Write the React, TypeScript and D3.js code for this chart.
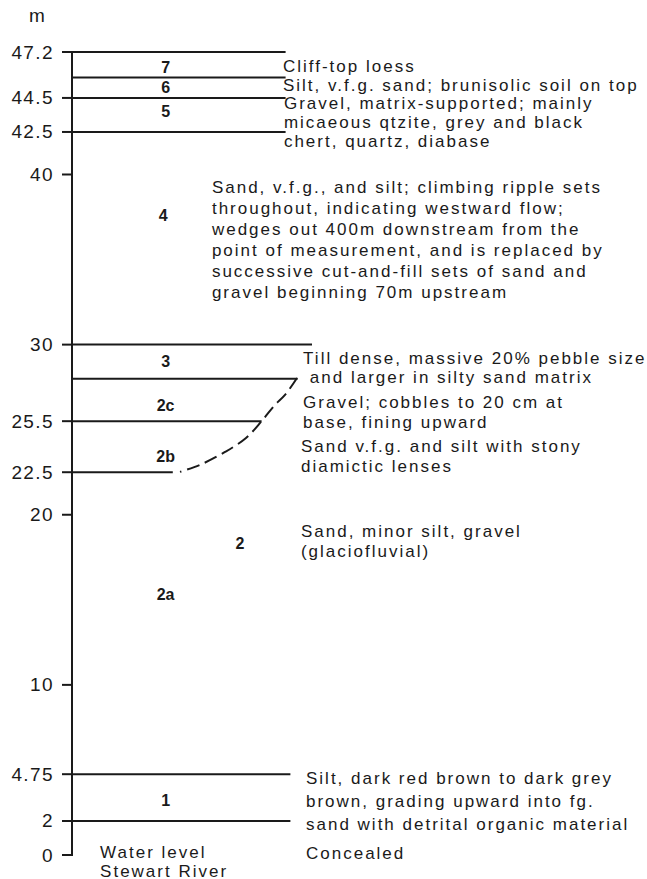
import React from "react";
import * as d3 from "d3";

const WIDTH = 647;
const HEIGHT = 879;

// height above water level (m) shown on the axis
const tickValues = [47.2, 44.5, 42.5, 40, 30, 25.5, 22.5, 20, 10, 4.75, 2, 0];

// unit contacts: height (m) and lateral reach (relative units, 30 m contact = 100)
const contactHeights = [47.2, 45.7, 44.5, 42.5, 30, 28, 25.5, 22.5, 4.75, 2];
const contactExtents = [89, 89, 89, 89, 100, 94, 79, 42, 91, 91];

// dashed channel margin cutting 2b / 2c
const channelHeights = [28.04, 27.04, 26.46, 25.5, 24.51, 23.69, 22.93, 22.52];
const channelExtents = [93.75, 88.75, 84.6, 79, 72.5, 63.75, 53.3, 45];

const unitNames = ["7", "6", "5", "4", "3", "2c", "2b", "2", "2a", "1"];
const unitHeights = [46.3, 45.1, 43.7, 37.6, 29.0, 26.4, 23.4, 18.3, 15.3, 3.2];
const unitExtents = [39, 39, 39, 38, 39, 39, 39, 70, 39, 39];

const descriptions: string[][] = [
  ["Cliff-top loess"],
  ["Silt, v.f.g. sand; brunisolic soil on top"],
  ["Gravel, matrix-supported; mainly", "micaeous qtzite, grey and black", "chert, quartz, diabase"],
  [
    "Sand, v.f.g., and silt; climbing ripple sets",
    "throughout, indicating westward flow;",
    "wedges out 400m downstream from the",
    "point of measurement, and is replaced by",
    "successive cut-and-fill sets of sand and",
    "gravel beginning 70m upstream",
  ],
  ["Till dense, massive 20% pebble size", "\u00a0and larger in silty sand matrix"],
  ["Gravel; cobbles to 20 cm at", "base, fining upward"],
  ["Sand v.f.g. and silt with stony", "diamictic lenses"],
  ["Sand, minor silt, gravel", "(glaciofluvial)"],
  ["Silt, dark red brown to dark grey", "brown, grading upward into fg.", "sand with detrital organic material"],
  ["Concealed"],
  ["Water level", "Stewart River"],
];
const descHeights = [46.38, 45.27, 44.21, 39.27, 29.22, 26.63, 24.04, 19.05, 4.53, 0.12, 0.18];
const descExtents = [87.9, 87.9, 88.3, 58.3, 96.3, 96.3, 95.4, 95.4, 97.5, 97.5, 11.7];

// line spacing per description block (px)
const descLeading = [20, 20, 19, 21, 19, 20, 20, 20, 23, 20, 19];

const INK = "#1a1a1a";
const FONT = "'Liberation Sans', Arial, Helvetica, sans-serif";

export default function App() {
  const y = d3.scaleLinear().domain([0, 47.2]).range([855, 52]);
  const x = d3.scaleLinear().domain([0, 100]).range([72, 312]);
  const [yMin, yMax] = y.domain();

  const channelLine = d3
    .line<number>()
    .x((_, i) => x(channelExtents[i]))
    .y((d) => y(d))
    .curve(d3.curveCatmullRom);

  return (
    <svg
      width={WIDTH}
      height={HEIGHT}
      style={{ position: "absolute", left: 0, top: 0, background: "#fff" }}
      fontFamily={FONT}
    >
      <text x={37} y={15} fontSize={19} fill={INK} textAnchor="middle" dominantBaseline="central">
        m
      </text>

      {contactHeights.map((h, i) => (
        <line
          key={`c${i}`}
          x1={x(0)}
          x2={x(contactExtents[i])}
          y1={y(h)}
          y2={y(h)}
          stroke={INK}
          strokeWidth={2}
        />
      ))}

      <path
        d={channelLine(channelHeights) || ""}
        fill="none"
        stroke={INK}
        strokeWidth={2}
        strokeDasharray="13,6"
      />

      {/* height axis */}
      <g transform={`translate(${x(0)},0)`}>
        <line x1={0} x2={0} y1={y(yMin) + 1} y2={y(yMax)} stroke={INK} strokeWidth={2} />
        {tickValues.map((t) => (
          <g key={`t${t}`} transform={`translate(0,${y(t)})`}>
            <line x1={-10} x2={0} stroke={INK} strokeWidth={2} />
            <text
              x={-18}
              fontSize={19}
              fill={INK}
              textAnchor="end"
              dominantBaseline="central"
              style={{ letterSpacing: "1.4px" }}
            >
              {String(t)}
            </text>
          </g>
        ))}
      </g>

      {unitNames.map((n, i) => (
        <text
          key={`u${i}`}
          x={x(unitExtents[i])}
          y={y(unitHeights[i])}
          fontSize={16}
          fontWeight="bold"
          fill={INK}
          textAnchor="middle"
          dominantBaseline="central"
        >
          {n}
        </text>
      ))}

      {descriptions.map((lines, i) => (
        <text
          key={`d${i}`}
          x={x(descExtents[i])}
          y={y(descHeights[i])}
          fontSize={17}
          fill={INK}
          dominantBaseline="central"
          style={{ letterSpacing: "2px", whiteSpace: "pre" }}
        >
          {lines.map((t, j) => (
            <tspan key={j} x={x(descExtents[i])} dy={j === 0 ? 0 : descLeading[i]} dominantBaseline="central">
              {t}
            </tspan>
          ))}
        </text>
      ))}
    </svg>
  );
}
